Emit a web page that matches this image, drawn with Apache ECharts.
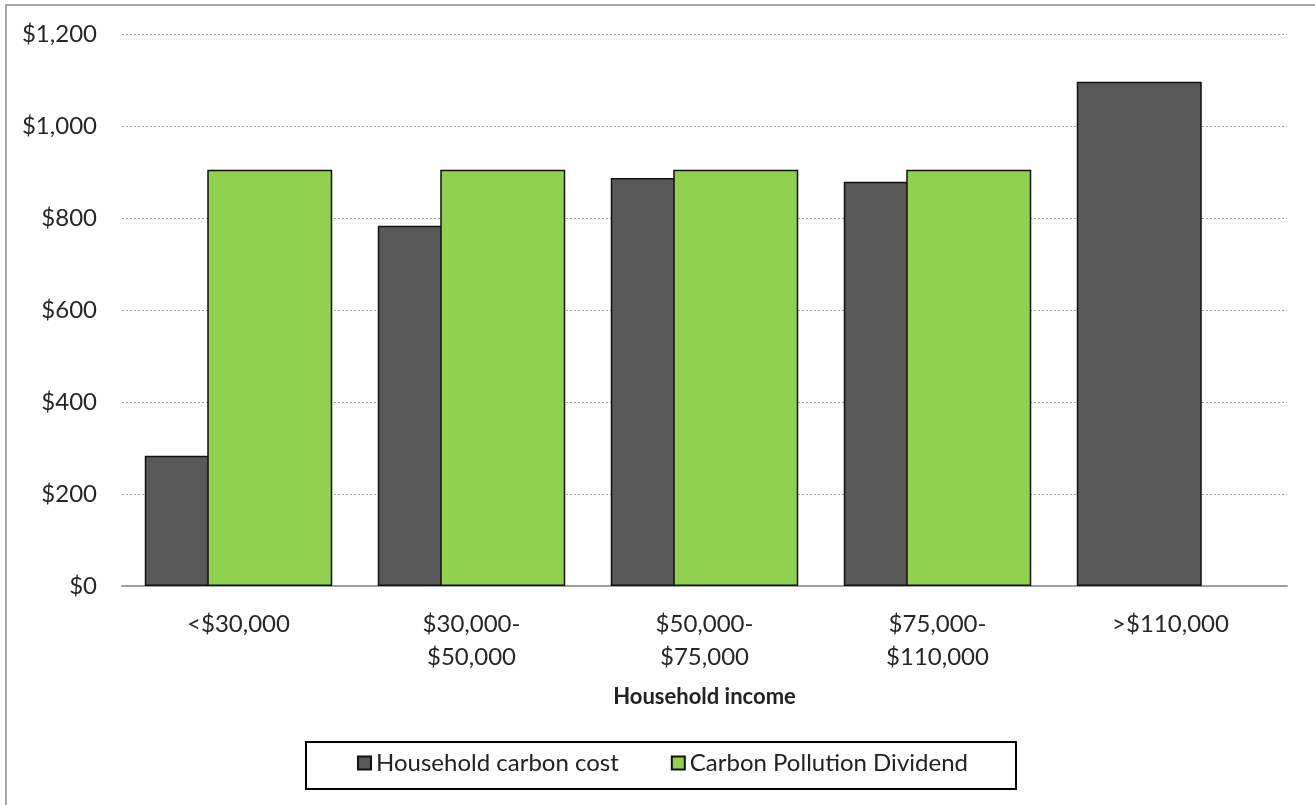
<!DOCTYPE html>
<html>
<head>
<meta charset="utf-8">
<script src="https://cdn.jsdelivr.net/npm/echarts@6/dist/echarts.min.js"></script>
<style>
html,body{margin:0;padding:0;background:#fff;}
#chart{width:1315px;height:805px;}
</style>
</head>
<body>
<div id="chart"></div>
<script>
var categories = ['<$30,000', '$30,000-\n$50,000', '$50,000-\n$75,000', '$75,000-\n$110,000', '>$110,000'];
var carbonCost = [283, 783, 887, 879, 1096];
var dividend = [905, 905, 905, 905, null];
var seriesNames = ['Household carbon cost', 'Carbon Pollution Dividend'];
var yTicks = { min: 0, max: 1200, interval: 200 };

var FONT = 'Lato';
var chart = echarts.init(document.getElementById('chart'));
chart.setOption({
  backgroundColor: '#ffffff',
  animation: false,
  textStyle: { fontFamily: FONT },
  grid: { left: 122, right: 28, top: 34, bottom: 219, containLabel: false },
  graphic: [
    { type: 'line', shape: { x1: 6, y1: 5, x2: 6, y2: 805 }, style: { stroke: '#a6a6a6', lineWidth: 2 } },
    { type: 'line', shape: { x1: 5, y1: 5, x2: 1315, y2: 5 }, style: { stroke: '#a6a6a6', lineWidth: 2 } },
    { type: 'rect', shape: { x: 306, y: 742, width: 710, height: 47 }, style: { fill: 'none', stroke: '#000', lineWidth: 2 } }
  ],
  legend: {
    data: seriesNames,
    left: 357,
    top: 751,
    itemWidth: 13,
    itemHeight: 13,
    itemGap: 52,
    icon: 'rect',
    textStyle: { fontFamily: FONT, fontSize: 24, color: '#222' },
    padding: 0
  },
  xAxis: {
    type: 'category',
    data: categories,
    name: 'Household income',
    nameLocation: 'middle',
    nameGap: 100,
    nameTextStyle: { fontFamily: FONT, fontSize: 22, fontWeight: 'bold', color: '#222' },
    axisLine: { show: true, lineStyle: { color: '#a0a0a0', width: 2 } },
    axisTick: { show: false },
    axisLabel: { fontFamily: FONT, fontSize: 24, color: '#262626', margin: 22, lineHeight: 33, interval: 0 }
  },
  yAxis: {
    type: 'value',
    min: yTicks.min,
    max: yTicks.max,
    interval: yTicks.interval,
    axisLine: { show: false },
    axisTick: { show: false },
    splitLine: { show: true, lineStyle: { color: '#a0a0a0', type: [2, 2], width: 1 } },
    axisLabel: {
      fontFamily: FONT, fontSize: 24, color: '#262626', margin: 25,
      formatter: function (v) { return '$' + v.toLocaleString('en-US'); }
    }
  },
  series: [
    {
      name: seriesNames[0], type: 'bar', data: carbonCost,
      barWidth: 125, barGap: '-50%',
      itemStyle: { color: '#595959', borderColor: '#111', borderWidth: 1.5 }
    },
    {
      name: seriesNames[1], type: 'bar', data: dividend,
      barWidth: 125, barGap: '-50%',
      itemStyle: { color: '#92d050', borderColor: '#111', borderWidth: 1.5 }
    }
  ]
});
</script>
</body>
</html>
